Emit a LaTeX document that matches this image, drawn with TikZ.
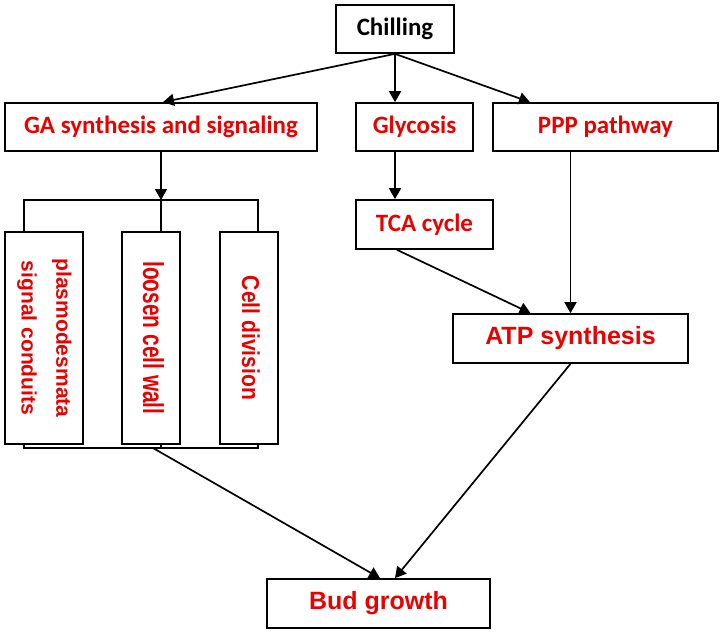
\documentclass[tikz,border=0pt]{standalone}
\usepackage{fontspec}
\usepackage{graphicx}
\setmainfont{Carlito}
\newfontfamily\arialfont{Liberation Sans}
\usetikzlibrary{arrows.meta}
\definecolor{txtred}{RGB}{235,0,0}
\begin{document}
\begin{tikzpicture}[x=1pt,y=-1pt,
  box/.style={draw, line width=1.7pt, inner sep=0pt, text=txtred, align=center,
    font=\fontsize{25}{29}\selectfont\bfseries},
  abox/.style={box, font=\arialfont\fontsize{25}{29}\selectfont\bfseries},
  vbox/.style={box, font=\arialfont\fontsize{21}{25}\selectfont\bfseries},
  arr/.style={-{Triangle[length=11pt,width=12pt]}, line width=1.7pt},
  ln/.style={line width=1.7pt}]
\useasboundingbox (0,0) rectangle (723,634);
\fill[white] (0,0) rectangle (723,634);

\node[box, text=black, minimum width=118pt, minimum height=48pt] (chill) at (395,29) {Chilling};
\node[box, minimum width=312pt, minimum height=48pt] (ga) at (161,127) {GA synthesis and signaling};
\node[box, minimum width=117pt, minimum height=48pt] (gly) at (414.5,127) {Glycosis};
\node[box, minimum width=225pt, minimum height=48pt] (ppp) at (605.5,127) {PPP pathway};
\node[box, minimum width=137pt, minimum height=49pt] (tca) at (424.5,224.5) {TCA cycle};
\node[abox, minimum width=235pt, minimum height=49pt] (atp) at (570.5,338.5) {ATP synthesis};
\node[abox, minimum width=223pt, minimum height=49pt] (bud) at (378.5,603.5) {Bud growth};

\node[vbox, minimum width=78pt, minimum height=212pt] (v1) at (44,338)
  {\rotatebox{-90}{\begin{tabular}{@{}c@{}}plasmodesmata\\[10pt]signal conduits\end{tabular}}};
\node[vbox, minimum width=58pt, minimum height=212pt] (v2) at (151,338)
  {\hspace*{5pt}\rotatebox{-90}{\scalebox{0.72}[1]{\fontsize{29}{33}\selectfont loosen cell wall}}};
\node[vbox, minimum width=58pt, minimum height=212pt] (v3) at (249,338)
  {\hspace*{4pt}\rotatebox{-90}{\scalebox{0.86}[1]{\fontsize{24.5}{29}\selectfont Cell division}}};

% bracket coordinates
\coordinate (tl) at (24,200);
\coordinate (tr) at (258,200);
\coordinate (bl) at (24,448);
\coordinate (br) at (258,448);
\coordinate (bs) at (153,448);

% arrows from Chilling
\draw[arr] (chill.south) -- ([xshift=2pt]ga.north);
\draw[arr] (chill.south) -- (chill.south |- gly.north);
\draw[arr] (chill.south) -- ([xshift=-75.5pt]ppp.north);

% glycolysis chain
\draw[arr] (chill.south |- gly.south) -- (chill.south |- tca.north);
\draw[arr] ([xshift=-27.5pt]tca.south) -- ([xshift=-40pt]atp.north);
\draw[arr] (atp.north |- ppp.south) -- (atp.north);
\draw[arr] (atp.south) -- ([xshift=16.5pt]bud.north);

% GA bracket
\draw[arr] (ga.south) -- (ga.south |- tl);
\draw[ln] (tl |- v1.north) -- (tl) -- (tr) -- (tr |- v3.north);
\draw[ln] (ga.south |- tl) -- (ga.south |- v2.north);
\draw[ln] (bl |- v1.south) -- (bl) -- (br) -- (br |- v3.south);
\draw[ln] (ga.south |- v2.south) -- (ga.south |- bl);
\draw[arr] (bs) -- ([xshift=1.5pt]bud.north);
\end{tikzpicture}
\end{document}
